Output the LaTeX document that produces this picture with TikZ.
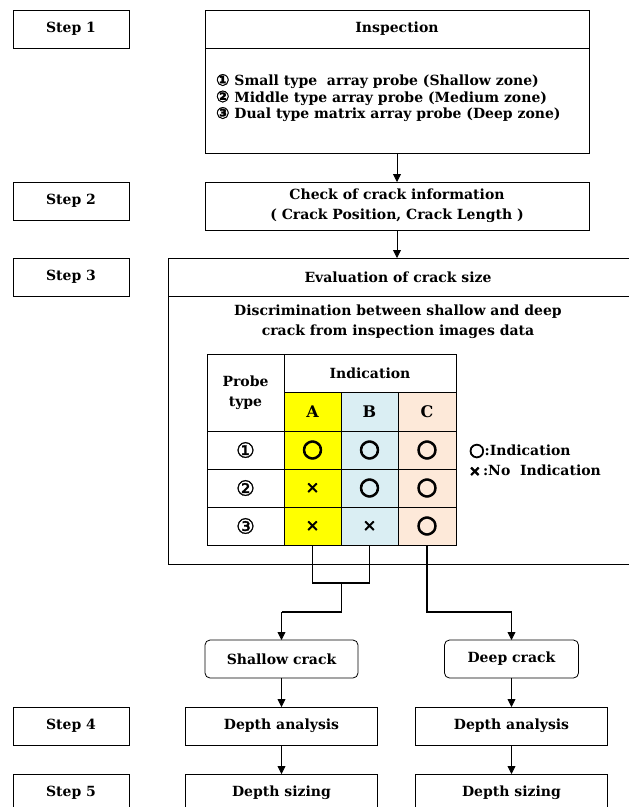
\documentclass[tikz,border=0pt]{standalone}
\usepackage{fontspec}
\setmainfont{DejaVu Serif}
\newfontfamily\symf[FakeBold=1.5]{DejaVu Sans}
\newfontfamily\markf[FakeBold=4]{DejaVu Sans}
\usetikzlibrary{arrows.meta}
\definecolor{colA}{HTML}{FFFF00}
\definecolor{colB}{HTML}{DAEEF3}
\definecolor{colC}{HTML}{FDE9D9}
\begin{document}
\begin{tikzpicture}[x=1pt,y=-1pt,
  font=\bfseries\fontsize{14}{16.5}\selectfont,
  box/.style={draw, line width=0.8pt, inner sep=0pt, outer sep=0pt, align=center},
  rbox/.style={box, rounded corners=5pt},
  cell/.style={draw, line width=1pt, inner sep=0pt, outer sep=0pt, align=center},
  lbl/.style={inner sep=0pt, outer sep=0pt, align=center},
  conn/.style={line width=1.6pt},
  arr/.style={line width=0.8pt, -{Triangle[length=8pt,width=8pt]}},
  mk/.style={font=\markf\fontsize{24}{24}\selectfont},
  mx/.style={font=\markf\fontsize{16}{16}\selectfont},
  num/.style={font=\symf\fontsize{21}{21}\selectfont}
]
\useasboundingbox (0,0) rectangle (629,807);
\begin{scope}
\clip (0,0) rectangle (629,807);
% step boxes
\node[box, minimum width=116pt, minimum height=38pt] (s1) at (71,29) {Step 1};
\node[box, minimum width=116pt, minimum height=38pt] (s2) at (71,201) {Step 2};
\node[box, minimum width=116pt, minimum height=38pt] (s3) at (71,277) {Step 3};
\node[box, minimum width=116pt, minimum height=38pt] (s4) at (71,726) {Step 4};
\node[box, minimum width=116pt, minimum height=38pt] (s5) at (71,793) {Step 5};
% inspection
\node[box, minimum width=384pt, minimum height=143pt] (insp) at (397,81.5) {};
\draw[line width=0.8pt] (insp.west |- s1.south) -- (insp.east |- s1.south);
\node[lbl] (inspt) at (397,29) {Inspection};
\node[lbl, align=left, anchor=west] (insl) at (216,98) {{\symf\fontsize{16}{16}\selectfont ①} Small type\ \ array probe (Shallow zone)\\{\symf\fontsize{16}{16}\selectfont ②} Middle type array probe (Medium zone)\\{\symf\fontsize{16}{16}\selectfont ③} Dual type matrix array probe (Deep zone)};
% check
\node[box, minimum width=384pt, minimum height=48pt, font=\bfseries\fontsize{14}{20}\selectfont] (chk) at (397,206) {Check of crack information\\( Crack Position, Crack Length )};
\draw[arr] (insp.south) -- (chk.north);
% evaluation
\node[box, minimum width=463pt, minimum height=306pt] (eval) at (399.5,411) {};
\draw[arr] (chk.south) -- (eval.north -| chk.south);
\draw[line width=0.8pt] (eval.west |- s3.south) -- (eval.east |- s3.south);
\node[lbl] (evalt) at (398,277) {Evaluation of crack size};
\node[lbl, font=\bfseries\fontsize{14}{20}\selectfont] (disc) at (398,322) {Discrimination between shallow and deep\\crack from inspection images data};
% table
\node[cell, minimum width=77pt, minimum height=77pt, font=\bfseries\fontsize{14}{20}\selectfont] (ptype) at (245.5,392.5) {Probe\\type};
\node[cell, minimum width=172pt, minimum height=38pt] (ind) at (370,373) {Indication};
\node[cell, fill=colA, minimum width=57pt, minimum height=39pt, font=\bfseries\fontsize{16}{16}\selectfont] (hA) at (312.5,411.5) {A};
\node[cell, fill=colB, minimum width=57pt, minimum height=39pt, font=\bfseries\fontsize{16}{16}\selectfont] (hB) at (369.5,411.5) {B};
\node[cell, fill=colC, minimum width=58pt, minimum height=39pt, font=\bfseries\fontsize{16}{16}\selectfont] (hC) at (427,411.5) {C};
\node[cell, minimum width=77pt, minimum height=38pt, num] (r1) at (245.5,450) {①};
\node[cell, minimum width=77pt, minimum height=38pt, num] (r2) at (245.5,488) {②};
\node[cell, minimum width=77pt, minimum height=38pt, num] (r3) at (245.5,526) {③};
\node[cell, fill=colA, minimum width=57pt, minimum height=38pt, mk] (c1A) at (312.5,450) {○};
\node[cell, fill=colB, minimum width=57pt, minimum height=38pt, mk] (c1B) at (369.5,450) {○};
\node[cell, fill=colC, minimum width=58pt, minimum height=38pt, mk] (c1C) at (427,450) {○};
\node[cell, fill=colA, minimum width=57pt, minimum height=38pt, mx] (c2A) at (312.5,488) {×};
\node[cell, fill=colB, minimum width=57pt, minimum height=38pt, mk] (c2B) at (369.5,488) {○};
\node[cell, fill=colC, minimum width=58pt, minimum height=38pt, mk] (c2C) at (427,488) {○};
\node[cell, fill=colA, minimum width=57pt, minimum height=38pt, mx] (c3A) at (312.5,526) {×};
\node[cell, fill=colB, minimum width=57pt, minimum height=38pt, mx] (c3B) at (369.5,526) {×};
\node[cell, fill=colC, minimum width=58pt, minimum height=38pt, mk] (c3C) at (427,526) {○};
% legend
\node[lbl, align=left, anchor=west, font=\bfseries\fontsize{14}{20}\selectfont] (leg) at (469,460) {{\markf\fontsize{18}{18}\selectfont ○}:Indication\\{\markf ×}\,:No\ \ Indication};
% connectors
\coordinate (jm) at (341.5,583);
\coordinate (lev) at (0,612);
\node[rbox, minimum width=153pt, minimum height=38pt] (shallow) at (281.5,659) {Shallow crack};
\node[rbox, minimum width=134pt, minimum height=38pt] (deep) at (511.5,659) {Deep crack};
\draw[conn] (c3A.south) -- (c3A.south |- jm) -- (c3B.south |- jm) -- (c3B.south);
\draw[conn] (jm) -- (jm |- lev) -- (shallow.north |- lev);
\draw[arr] (shallow.north |- lev) -- (shallow.north);
\draw[conn] (c3C.south) -- (c3C.south |- lev) -- (deep.north |- lev);
\draw[arr] (deep.north |- lev) -- (deep.north);
% depth analysis
\node[box, minimum width=192pt, minimum height=38pt] (da1) at (281.5,726) {Depth analysis};
\node[box, minimum width=192pt, minimum height=38pt] (da2) at (511.5,726) {Depth analysis};
\node[box, minimum width=192pt, minimum height=38pt] (ds1) at (281.5,793) {Depth sizing};
\node[box, minimum width=192pt, minimum height=38pt] (ds2) at (511.5,793) {Depth sizing};
\draw[arr] (shallow.south) -- (da1.north);
\draw[arr] (deep.south) -- (da2.north);
\draw[arr] (da1.south) -- (ds1.north);
\draw[arr] (da2.south) -- (ds2.north);
\end{scope}
\end{tikzpicture}
\end{document}
